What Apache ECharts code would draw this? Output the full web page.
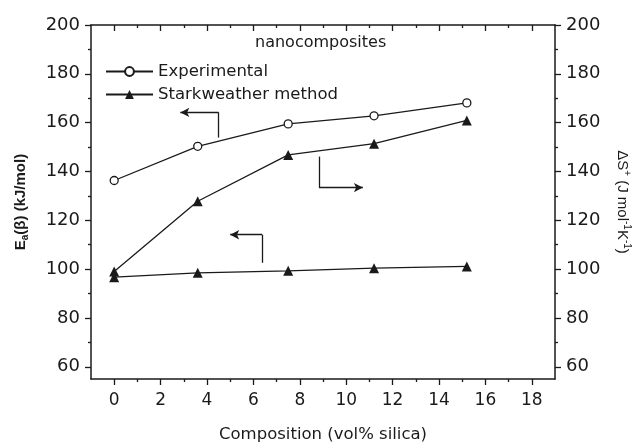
<!DOCTYPE html>
<html>
<head>
<meta charset="utf-8">
<script src="https://cdn.jsdelivr.net/npm/echarts@6/dist/echarts.min.js"></script>
<style>
  html, body { margin: 0; padding: 0; background: #fff; }
  #chart { width: 635px; height: 442px; }
</style>
</head>
<body>
<div id="chart"></div>
<script>
  'use strict'

  // composition (vol% silica)
  var composition = [0, 3.6, 7.5, 11.2, 15.2];
  // Ea(beta) experimental, kJ/mol
  var eaExperimental = [136.3, 150.3, 159.5, 162.8, 168.1];
  // Ea(beta) Starkweather method, kJ/mol
  var eaStarkweather = [96.7, 98.5, 99.3, 100.4, 101.1];
  // delta S, J mol-1 K-1
  var dsStarkweather = [99.0, 127.8, 146.8, 151.4, 160.9];

  var xMajor = [0, 2, 4, 6, 8, 10, 12, 14, 16, 18];
  var xMinor = [1, 3, 5, 7, 9, 11, 13, 15, 17];
  var yMajor = [60, 80, 100, 120, 140, 160, 180, 200];
  var yMinor = [70, 90, 110, 130, 150, 170, 190];

  // annotation arrows: [x of stem, y start, y corner, x arrow end]
  var arrows = [
    [4.5, 153.9, 164.2, 2.85],
    [8.83, 146.1, 133.4, 10.72],
    [6.38, 102.6, 114.1, 5.0]
  ];

  function pairs(xs, ys) {
    return xs.map(function (x, i) { return [x, ys[i]]; });
  }

  var arrowLines = [];
  arrows.forEach(function (a) {
    arrowLines.push([
      { coord: [a[0], a[1]], symbol: 'none' },
      { coord: [a[0], a[2]], symbol: 'none' }
    ]);
    arrowLines.push([
      { coord: [a[0], a[2]], symbol: 'none' },
      { coord: [a[3], a[2]], symbol: 'arrow' }
    ]);
  });

  var ink = '#1a1a1a';
  var font = 'DejaVu Sans, Liberation Sans, sans-serif';
  var fontV = 'Liberation Sans, Arial, DejaVu Sans, sans-serif';

  function xAx(pos, values, len, inside, main) {
    return {
      type: 'value', position: pos, min: -1, max: 19,
      axisLine: { show: main, onZero: false, lineStyle: { color: ink, width: 1.5 } },
      axisTick: { show: true, customValues: values, length: len, inside: inside,
        lineStyle: { color: ink, width: 1.3 } },
      axisLabel: { show: main && pos === 'bottom', customValues: values, margin: 13,
        fontSize: 17, color: ink, fontFamily: font },
      splitLine: { show: false }
    };
  }

  function yAx(pos, values, len, main, name) {
    return {
      type: 'value', position: pos, min: 55, max: 200,
      name: name || '',
      nameLocation: 'middle',
      axisLine: { show: main, onZero: false, lineStyle: { color: ink, width: 1.5 } },
      axisTick: { show: true, customValues: values, length: len,
        lineStyle: { color: ink, width: 1.3 } },
      axisLabel: { show: main, customValues: values, margin: 11,
        fontSize: 18, color: ink, fontFamily: font },
      splitLine: { show: false }
    };
  }

  var yLeft = yAx('left', yMajor, 6, true, '{b|E}{s|a}{b|(β) (kJ/mol)}');
  yLeft.nameGap = 61;
  yLeft.nameTextStyle = {
    fontFamily: fontV, color: ink,
    rich: {
      b: { fontSize: 15, fontWeight: 'bold', fontFamily: fontV, color: ink },
      s: { fontSize: 10, fontWeight: 'bold', fontFamily: fontV, color: ink, padding: [9, 0, 0, 0] }
    }
  };
  var yRight = yAx('right', yMajor, 6, true,
    '{n|ΔS}{p|+}{n| (J mol}{p|-1}{n|K}{p|-1}{n|)}');
  yRight.nameGap = 58;
  yRight.nameRotate = -90;
  yRight.nameTextStyle = {
    fontFamily: fontV, color: ink,
    rich: {
      n: { fontSize: 15, fontFamily: fontV, color: ink },
      p: { fontSize: 10, fontFamily: fontV, color: ink, padding: [0, 0, 9, 0] }
    }
  };

  var xBottom = xAx('bottom', xMajor, 6, false, true);
  xBottom.name = 'Composition (vol% silica)';
  xBottom.nameLocation = 'middle';
  xBottom.nameGap = 47;
  xBottom.nameTextStyle = { fontSize: 16.5, fontFamily: font, color: ink };

  var option = {
    animation: false,
    backgroundColor: '#fff',
    grid: { left: 91, right: 80, top: 25, bottom: 63, outerBoundsMode: 'none' },
    xAxis: [
      xBottom,
      xAx('bottom', xMinor, 3, false, false),
      xAx('top', xMajor, 6, true, true),
      xAx('top', xMinor, 3, true, false)
    ],
    yAxis: [
      yLeft,
      yAx('left', yMinor, 3, false),
      yRight,
      yAx('right', yMinor, 3, false)
    ],
    legend: {
      orient: 'vertical', left: 100, top: 58,
      itemWidth: 47, itemHeight: 11, itemGap: 6,
      textStyle: { fontSize: 16.5, color: ink, fontFamily: font },
      data: ['Experimental', 'Starkweather method']
    },
    graphic: [{
      type: 'text', left: 255, top: 35,
      style: { text: 'nanocomposites', fontSize: 16, fill: ink, fontFamily: font }
    }],
    series: [
      {
        name: 'Experimental', type: 'line', xAxisIndex: 0, yAxisIndex: 0,
        data: pairs(composition, eaExperimental),
        symbol: 'circle', symbolSize: 8,
        itemStyle: { color: '#fff', borderColor: ink, borderWidth: 1.3 },
        lineStyle: { color: ink, width: 1.3 },
        markLine: {
          silent: true, symbolSize: [7, 9],
          label: { show: false },
          lineStyle: { color: ink, width: 1.3, type: 'solid' },
          emphasis: { disabled: true },
          data: arrowLines
        }
      },
      {
        name: 'Starkweather method', type: 'line', xAxisIndex: 0, yAxisIndex: 0,
        data: pairs(composition, eaStarkweather),
        symbol: 'triangle', symbolSize: 10,
        itemStyle: { color: ink },
        lineStyle: { color: ink, width: 1.3 }
      },
      {
        name: 'Starkweather method', type: 'line', xAxisIndex: 0, yAxisIndex: 2,
        data: pairs(composition, dsStarkweather),
        symbol: 'triangle', symbolSize: 10,
        itemStyle: { color: ink },
        lineStyle: { color: ink, width: 1.3 }
      }
    ]
  };

  var chart = echarts.init(document.getElementById('chart'));
  chart.setOption(option);
</script>
</body>
</html>
